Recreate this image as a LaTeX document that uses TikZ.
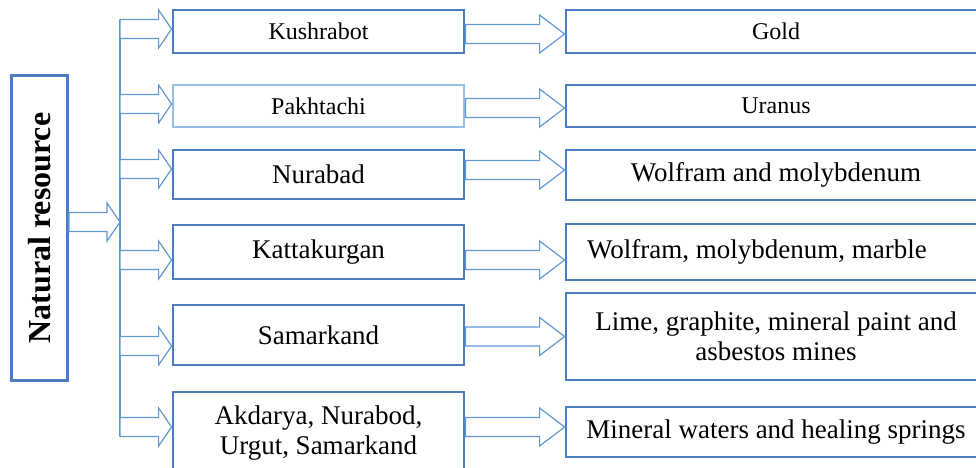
\documentclass[tikz,border=0pt]{standalone}
\usepackage{fontspec}
\setmainfont{Liberation Serif}
\usepackage{xcolor}
\usepackage{tikz}
\usetikzlibrary{calc}
\definecolor{resblue}{RGB}{74,126,193}
\definecolor{arrblue}{RGB}{96,152,214}
\definecolor{paleblue}{RGB}{150,190,228}

\begin{document}
\begin{tikzpicture}[x=0.5pt,y=-0.5pt,
  lbox/.style={draw=resblue,line width=1.4pt,fill=white,align=center,
               minimum width=145.5pt,inner sep=2pt},
  rbox/.style={draw=resblue,line width=1.4pt,fill=white,align=center,
               minimum width=210pt,inner sep=2pt},
  small/.style={font=\fontsize{12}{14}\selectfont},
  big/.style={font=\fontsize{13.5}{15}\selectfont},
  trunk/.style={draw=arrblue,line width=0.6pt},
  blk/.style={draw=arrblue,line width=0.6pt,fill=white,
    to path={let \p1=(\tikztostart),\p2=(\tikztotarget) in
      (\x1,\y2+4.75pt) -- (\x2-#1,\y2+4.75pt) -- (\x2-#1,\y2+9.5pt)
      -- (\x2,\y2) -- (\x2-#1,\y2-9.5pt) -- (\x2-#1,\y2-4.75pt)
      -- (\x1,\y2-4.75pt) -- cycle}},
  blk/.default=6.5pt]
\useasboundingbox (0,0) rectangle (976,467);
\clip (0,0) rectangle (976,467);

% source
\node[draw=resblue,line width=1.4pt,rotate=90,minimum width=152.5pt,
      minimum height=28pt,font=\bfseries\fontsize{16}{18}\selectfont]
      (nat) at (39.5,228) {Natural resource};

% places
\node[lbox,small,minimum height=21.5pt] (k1) at (318.5,31.5) {Kushrabot};
\node[lbox,small,draw=paleblue,minimum height=21pt] (k2) at (318.5,106) {Pakhtachi};
\node[lbox,big,minimum height=24.5pt] (k3) at (318.5,174.5) {Nurabad};
\node[lbox,big,minimum height=27pt] (k4) at (318.5,252) {Kattakurgan};
\node[lbox,big,minimum height=30pt] (k5) at (318.5,335) {Samarkand};
\node[lbox,big,minimum height=41.5pt] (k6) at (318.5,433.5) {Akdarya, Nurabod,\\Urgut, Samarkand};

% resources
\node[rbox,small,minimum height=21.5pt] (g1) at (776,31.5) {Gold};
\node[rbox,small,minimum height=21pt] (g2) at (776,106) {Uranus};
\node[rbox,big,minimum height=25pt] (g3) at (776,175) {Wolfram and molybdenum};
\node[rbox,big,minimum height=28pt] (g4) at (776,252) {Wolfram, molybdenum, marble\hspace*{19pt}};
\node[rbox,big,minimum height=43.5pt] (g5) at (776,336.5) {Lime, graphite, mineral paint and\\asbestos mines};
\node[rbox,big,minimum height=25pt] (g6) at (776,432) {Mineral waters and healing springs};

% trunk
\coordinate (top) at (120,20);
\coordinate (bot) at (120,436);
\coordinate (hub) at (120,222);
\coordinate (t1) at (120,29);
\coordinate (t2) at (120,104);
\coordinate (t3) at (120,169);
\coordinate (t4) at (120,260);
\coordinate (t5) at (120,346);
\coordinate (t6) at (120,427);
\draw[trunk] (top) -- (bot);
\draw[blk] (nat.south |- hub) to (hub);

\draw[blk] (t1) to (t1 -| k1.west);
\draw[blk] (t2) to (t2 -| k2.west);
\draw[blk] (t3) to (t3 -| k3.west);
\draw[blk] (t4) to (t4 -| k4.west);
\draw[blk] (t5) to (t5 -| k5.west);
\draw[blk] (t6) to (t6 -| k6.west);

\draw[blk=12.5pt] (k1.east) to ([yshift=-1.25pt]g1.west);
\draw[blk=12.5pt] (k2.east) to ([yshift=-1pt]g2.west);
\draw[blk=12.5pt] (k3.east) to ([yshift=2.5pt]g3.west);
\draw[blk=12.5pt] (k4.east) to ([yshift=-4pt]g4.west);
\draw[blk=12.5pt] (k5.east) to (g5.west);
\draw[blk=12.5pt] (k6.east) to ([yshift=2.5pt]g6.west);
\end{tikzpicture}
\end{document}
